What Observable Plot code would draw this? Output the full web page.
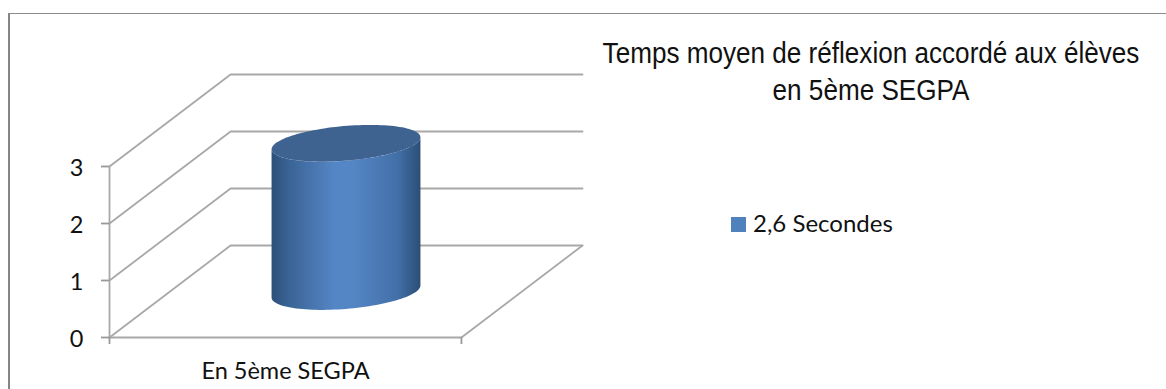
<!DOCTYPE html>
<html lang="fr">
<head>
<meta charset="utf-8">
<script src="https://cdn.jsdelivr.net/npm/d3@7"></script>
<script src="https://cdn.jsdelivr.net/npm/@observablehq/plot@0.6"></script>
<style>
html,body{margin:0;padding:0;background:#fff;width:1166px;height:389px;overflow:hidden}
#wrap{position:relative;width:1166px;height:389px}
#wrap svg{position:absolute;left:0;top:0;background:transparent}
#border{position:absolute;left:7.5px;top:13px;right:0;bottom:0;border-left:2.5px solid #858585;border-top:1.5px solid #8c8c8c}
.title{position:absolute;left:521px;width:700px;text-align:center;font:30px "Liberation Sans",Arial,sans-serif;color:#111;transform:scaleX(.87);white-space:nowrap;line-height:37px}
#swatch{position:absolute;left:731px;top:217px;width:15px;height:15px;background:#4f81bd}
#legend{position:absolute;left:753px;top:206.5px;font:24px Lato,sans-serif;line-height:32px;color:#111;white-space:nowrap}
</style>
</head>
<body>
<div id="wrap">
<div id="border"></div>
<div class="title" style="top:34px">Temps moyen de réflexion accordé aux élèves</div>
<div class="title" style="top:71px">en 5ème SEGPA</div>
<div id="swatch"></div>
<div id="legend">2,6 Secondes</div>
</div>
<script>
const categories = ["En 5ème SEGPA"];
const values = [2.6];
const yTicks = [0, 1, 2, 3];
const seriesName = "2,6 Secondes";

// oblique projection of (along, depth, value)
const depthX = 0.344, depthY = 1.614, radius = 0.2;
const px = (u, d) => u + d * depthX;
const py = (v, d) => v + d * depthY;

const grid = yTicks.flatMap(v => [
  {g: `s${v}`, x: px(0, 0), y: py(v, 0)},
  {g: `s${v}`, x: px(0, 1), y: py(v, 1)},
  {g: `s${v}`, x: px(1, 1), y: py(v, 1)}
]);
const floor = [[1, 0], [1, 1]].map(([u, d]) => ({x: px(u, d), y: py(0, d)}));
const front = [[0, 0], [1, 0]].map(([u, d]) => ({x: px(u, d), y: py(0, d)}));
const wall = [0, yTicks[yTicks.length - 1]].map(v => ({x: px(0, 0), y: v}));

const v = values[0];
const angles = d3.range(0, 361, 3).map(a => a * Math.PI / 180);
const ring = (val, a) => {
  const u = 0.5 + radius * Math.cos(a), d = 0.5 + radius * Math.sin(a);
  return {x: px(u, d), y: py(val, d)};
};
const t0 = Math.atan2(depthX, 1); // silhouette angle
const arc = (val, from, to) => d3.range(0, 61).map(i => ring(val, from + (to - from) * i / 60));
const side = [...arc(0, Math.PI + t0, 2 * Math.PI + t0), ...arc(v, 2 * Math.PI + t0, Math.PI + t0)];
const topCap = angles.map(a => ring(v, a));

const defs = () => {
  const d = d3.create("svg:defs");
  const g = d.append("linearGradient").attr("id", "side");
  [[0, "#2c5079"], [0.12, "#3a6496"], [0.42, "#5485c5"], [0.55, "#5485c5"], [0.85, "#426fa7"], [1, "#2b4e76"]]
    .forEach(([o, c]) => g.append("stop").attr("offset", o).attr("stop-color", c));
  return d.node();
};

const gridColor = "#a8a8a8";
const chart = Plot.plot({
  width: 1166, height: 389,
  marginLeft: 109, marginRight: 584, marginTop: 74, marginBottom: 52,
  style: {fontFamily: "Lato, sans-serif", background: "transparent"},
  x: {domain: [0, 1 + depthX]},
  y: {domain: [0, yTicks[yTicks.length - 1] + depthY]},
  marks: [
    defs,
    Plot.line(grid, {x: "x", y: "y", z: "g", stroke: gridColor, strokeWidth: 1.8}),
    Plot.line(floor, {x: "x", y: "y", stroke: gridColor, strokeWidth: 1.8}),
    Plot.line(front, {x: "x", y: "y", stroke: gridColor, strokeWidth: 1.8}),
    Plot.line(wall, {x: "x", y: "y", stroke: gridColor, strokeWidth: 1.8}),
    Plot.axisY({ticks: yTicks, tickFormat: () => "", label: null, tickSize: 8, strokeWidth: 1.8, stroke: "#999999"}),
    Plot.axisY({ticks: yTicks, tickFormat: d => d, label: null, tickSize: 0, tickPadding: 26, dy: 2, fontSize: 23.5, fill: "#111"}),
    Plot.axisX({ticks: [0, 1], tickFormat: () => "", label: null, tickSize: 7, strokeWidth: 1.8, stroke: "#999999"}),
    Plot.text(categories, {x: () => 0.5, y: () => 0, text: d => d, dy: 34, fontSize: 23.5, fill: "#111"}),
    Plot.line(side, {x: "x", y: "y", fill: "url(#side)", stroke: "none", curve: "linear-closed"}),
    Plot.line(topCap, {x: "x", y: "y", fill: "#3f6391", stroke: "none", curve: "linear-closed"})
  ]
});
document.getElementById("wrap").appendChild(chart);
</script>
</body>
</html>
